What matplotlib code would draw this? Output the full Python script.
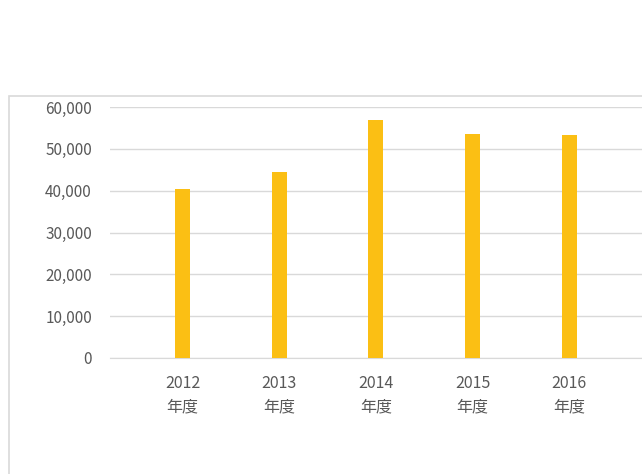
import matplotlib
matplotlib.use("Agg")
import matplotlib.pyplot as plt
from matplotlib.patches import Rectangle
from matplotlib.ticker import FuncFormatter

plt.rcParams['font.family'] = ['Noto Sans CJK JP', 'DejaVu Sans']

years = ["2012", "2013", "2014", "2015", "2016"]
values = [40400, 44400, 56900, 53500, 53250]
labels = [y + "\n年度" for y in years]

fig = plt.figure(figsize=(6.42, 4.74), dpi=100)

# chart border (runs off the right and bottom edges)
fig.patches.append(Rectangle((9/642, -0.1), 1.1, 1 - 96/474 + 0.1,
                             transform=fig.transFigure, fill=False,
                             edgecolor="#d9d9d9", linewidth=1.2))

ax = fig.add_axes([110/642, 1 - 358/474, 1 - 110/642 + 0.001, (358 - 107)/474])
x = range(len(years))
ax.bar(x, values, width=0.155, color="#fbbf14", zorder=3)

ax.set_ylim(0, 60000)
ax.set_xlim(-0.75, 4.76)
ax.set_yticks(range(0, 60001, 10000))
ax.yaxis.set_major_formatter(FuncFormatter(lambda v, p: f"{int(v):,}"))
ax.set_xticks(list(x))
ax.set_xticklabels(labels)
for t in ax.get_xticklabels():
    t.set_linespacing(1.55)
    t.set_fontsize(11.5)

ax.grid(axis="y", color="#d9d9d9", linewidth=1)
for s in ["top", "right", "left"]:
    ax.spines[s].set_visible(False)
ax.spines["bottom"].set_color("#d9d9d9")
ax.tick_params(axis="both", length=0, labelsize=11, colors="#595959")
ax.tick_params(axis="y", pad=13)
ax.tick_params(axis="x", pad=12, labelsize=11.5)

fig.savefig("out.png", dpi=100)
